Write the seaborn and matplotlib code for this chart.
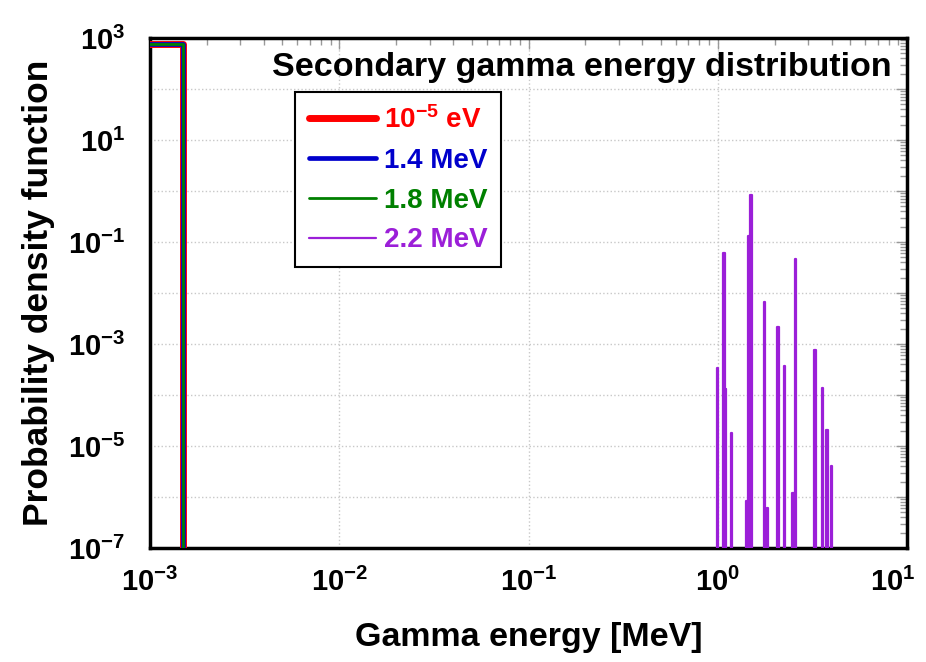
import numpy as np
import pandas as pd
import matplotlib
matplotlib.use("Agg")
import matplotlib.pyplot as plt
import matplotlib.ticker as mticker
import matplotlib.transforms as mtransforms
from matplotlib import font_manager as fm
import seaborn as sns

# ---- data ----
series_labels = [r"$\mathbf{10^{-5}}$ eV", "1.4 MeV", "1.8 MeV", "2.2 MeV"]
series_colors = ["#ff0000", "#0000cc", "#008000", "#9b1fd8"]
series_widths = [5.0, 3.4, 2.0, 1.6]

# low-energy bin (no gamma emitted) for the first three incident energies
low_edges = [1e-4, 1.5e-3]
low_pdf = 750.0

# discrete gamma lines for 2.2 MeV incident neutrons
spike_energy = [1.00, 1.08, 1.10, 1.18, 1.42, 1.46, 1.50, 1.77, 1.83,
                2.08, 2.25, 2.50, 2.57, 3.26, 3.59, 3.78, 3.99]
spike_pdf = [3.4e-4, 6.2e-2, 1.3e-4, 1.8e-5, 8.5e-7, 1.3e-1, 8.5e-1, 6.8e-3, 6.0e-7,
             2.2e-3, 3.7e-4, 1.2e-6, 4.7e-2, 7.6e-4, 1.35e-4, 2.1e-5, 4.1e-6]

floor = 1e-10
bin_factor = 1.0075

# ---- fonts ----
sns.set_theme(style="white")
names = {f.name for f in fm.fontManager.ttflist}
narrow = "Liberation Sans Narrow" in names
math_font = "Liberation Sans Narrow" if narrow else "Liberation Sans"
tick_size = 24 if narrow else 21
plt.rcParams["font.family"] = ["Liberation Sans", "DejaVu Sans"]
plt.rcParams["font.weight"] = "bold"
plt.rcParams["text.color"] = "black"
plt.rcParams["axes.labelcolor"] = "black"
plt.rcParams["mathtext.fontset"] = "custom"
plt.rcParams["mathtext.bf"] = math_font + ":bold"
plt.rcParams["mathtext.rm"] = math_font + ":bold"
plt.rcParams["mathtext.it"] = math_font + ":bold"

# ---- build step lines ----
low_df = pd.DataFrame({
    "x": [low_edges[0], low_edges[1], low_edges[1]],
    "y": [low_pdf, low_pdf, floor],
})

sx, sy = [], []
for e, h in zip(spike_energy, spike_pdf):
    sx += [e / bin_factor, e / bin_factor, e * bin_factor, e * bin_factor]
    sy += [floor, h, h, floor]
spike_df = pd.DataFrame({"x": sx, "y": sy})

fig = plt.figure(figsize=(9.26, 6.62), dpi=100)
ax = fig.add_axes([0.162, 0.1722, 0.8175, 0.7704])

for i in range(3):
    sns.lineplot(data=low_df, x="x", y="y", ax=ax, sort=False, estimator=None,
                 color=series_colors[i], lw=series_widths[i], label=series_labels[i],
                 zorder=3 + i)
sns.lineplot(data=spike_df, x="x", y="y", ax=ax, sort=False, estimator=None,
             color=series_colors[3], lw=series_widths[3], label=series_labels[3],
             zorder=6)

ax.set_xscale("log")
ax.set_yscale("log")
ax.set_xlim(1e-3, 10)
ax.set_ylim(1e-7, 1e3)

# ticks
ax.xaxis.set_major_locator(mticker.LogLocator(base=10, numticks=10))
ax.yaxis.set_major_locator(mticker.LogLocator(base=10, numticks=15))
ax.xaxis.set_minor_locator(mticker.LogLocator(base=10, subs=np.arange(2, 10), numticks=10))
ax.yaxis.set_minor_locator(mticker.LogLocator(base=10, subs=np.arange(2, 10), numticks=15))


def fmt_x(v, pos):
    return r"$\mathbf{10^{%d}}$" % int(round(np.log10(v)))


def fmt_y(v, pos):
    p = int(round(np.log10(v)))
    if p % 2 == 0:
        return ""
    return r"$\mathbf{10^{%d}}$" % p


ax.xaxis.set_major_formatter(mticker.FuncFormatter(fmt_x))
ax.yaxis.set_major_formatter(mticker.FuncFormatter(fmt_y))
ax.xaxis.set_minor_formatter(mticker.NullFormatter())
ax.yaxis.set_minor_formatter(mticker.NullFormatter())

ax.tick_params(which="both", direction="in", top=True, right=True, color="#999999",
               width=1, labelcolor="black")
ax.tick_params(which="major", length=8, labelsize=tick_size)
ax.tick_params(which="minor", length=5)
ax.tick_params(axis="y", which="major", pad=18)
ax.tick_params(axis="x", which="major", pad=14)

ax.grid(True, which="major", color="#c8c8c8", linestyle=":", linewidth=1)
for s in ax.spines.values():
    s.set_color("black")
    s.set_linewidth(2.5)

ax.set_xlabel("Gamma energy [MeV]", fontsize=24.5, fontweight="bold", labelpad=18)
ax.set_ylabel("Probability density function", fontsize=25.5, fontweight="bold", labelpad=9)

ax.text(0.98, 0.972, "Secondary gamma energy distribution", transform=ax.transAxes,
        ha="right", va="top", fontsize=24.5, fontweight="bold", color="black", zorder=10)

leg = ax.legend(loc="upper left", bbox_to_anchor=(0.1915, 0.894), borderaxespad=0,
                fontsize=20, frameon=True, fancybox=False, edgecolor="black",
                framealpha=1, handlelength=2.4, labelspacing=0.5, borderpad=0.5,
                handletextpad=0.3)
leg.get_frame().set_linewidth(1.5)
for text, line in zip(leg.get_texts(), leg.get_lines()):
    text.set_color(line.get_color())
    text.set_fontweight("bold")

# keep the last x tick label inside the figure
fig.canvas.draw()
for tick in ax.xaxis.get_major_ticks():
    if np.isclose(tick.get_loc(), 10):
        lab = tick.label1
        lab.set_transform(lab.get_transform() +
                          mtransforms.ScaledTranslation(-10 / 72, 0, fig.dpi_scale_trans))

fig.savefig("out.png", dpi=100)
